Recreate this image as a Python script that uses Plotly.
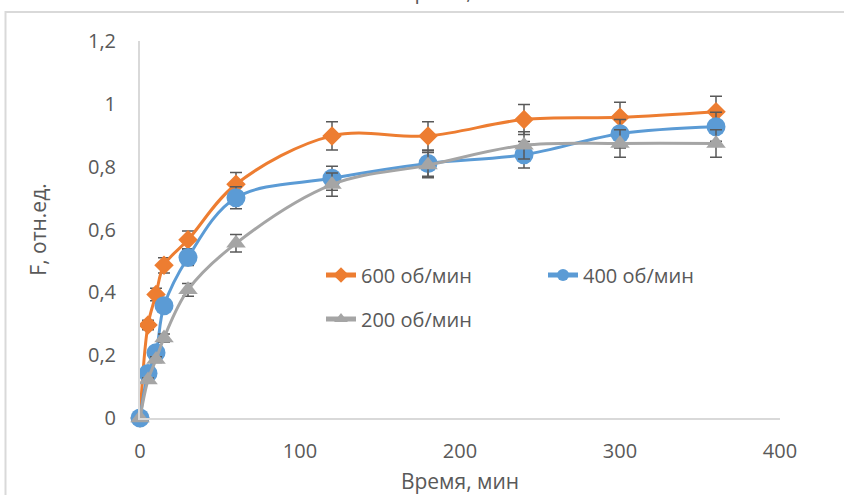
import plotly.graph_objects as go

# Sampling times, minutes
time_min = [0, 5, 10, 15, 30, 60, 120, 180, 240, 300, 360]

# Relative fraction F for three stirring speeds
f_600 = [0, 0.296, 0.393, 0.486, 0.567, 0.744, 0.898, 0.898, 0.950, 0.957, 0.975]
f_400 = [0, 0.142, 0.208, 0.357, 0.511, 0.701, 0.763, 0.810, 0.838, 0.905, 0.927]
f_200 = [0, 0.121, 0.186, 0.255, 0.408, 0.556, 0.743, 0.805, 0.868, 0.874, 0.874]

series_names = ["600 об/мин", "400 об/мин", "200 об/мин"]
error_percent = 5

x_ticks = [0, 100, 200, 300, 400]
y_ticks = [0, 0.2, 0.4, 0.6, 0.8, 1.0, 1.2]

FONT = "Open Sans"
TEXT = "#595959"
AXIS = "#d9d9d9"

W, H = 844, 495
L, R, T, B = 140, 64, 41, 77
PW, PH = W - L - R, H - T - B


def px_to_paper_x(px):
    return (px - L) / PW


def px_to_paper_y(py):
    return (H - B - py) / PH


styles = [
    dict(color="#ED7D31", symbol="diamond", size=15, legend="legend"),
    dict(color="#5B9BD5", symbol="circle", size=19, legend="legend"),
    dict(color="#A5A5A5", symbol="triangle-up", size=17, legend="legend2"),
]

fig = go.Figure()
for name, ys, st in zip(series_names, [f_600, f_400, f_200], styles):
    fig.add_trace(go.Scatter(
        x=time_min, y=ys, name=name, mode="lines+markers",
        line=dict(color=st["color"], width=3, shape="spline", smoothing=1),
        marker=dict(color=st["color"], symbol=st["symbol"], size=st["size"]),
        error_y=dict(type="percent", value=error_percent, color="#595959",
                     thickness=1.5, width=6),
        cliponaxis=False,
        legend=st["legend"],
    ))

legend_common = dict(
    orientation="h", xanchor="left", yanchor="middle",
    font=dict(family=FONT, size=20, color=TEXT),
    bgcolor="rgba(0,0,0,0)", entrywidth=177, entrywidthmode="pixels",
    itemsizing="constant", itemclick=False,
)

fig.update_layout(
    width=W, height=H,
    margin=dict(l=L, r=R, t=T, b=B, autoexpand=False),
    paper_bgcolor="white", plot_bgcolor="white",
    separators=", ",
    font=dict(family=FONT, size=20, color=TEXT),
    showlegend=True,
    legend=dict(x=px_to_paper_x(321), y=px_to_paper_y(275), **legend_common),
    legend2=dict(x=px_to_paper_x(321), y=px_to_paper_y(319), **legend_common),
    xaxis=dict(
        range=[0, 400], tickvals=x_ticks, showgrid=False, zeroline=False,
        showline=True, linecolor=AXIS, linewidth=2, ticks="",
        ticklabelstandoff=14,
        tickfont=dict(family=FONT, size=20, color=TEXT),
        title=dict(text="Время, мин", standoff=13,
                   font=dict(family=FONT, size=21, color=TEXT)),
        automargin=False,
    ),
    yaxis=dict(
        range=[0, 1.2], tickvals=y_ticks, showgrid=False, zeroline=False,
        showline=True, linecolor=AXIS, linewidth=2, ticks="",
        ticklabelstandoff=18,
        tickfont=dict(family=FONT, size=20, color=TEXT),
        title=dict(text="F, отн.ед.", standoff=36,
                   font=dict(family=FONT, size=21, color=TEXT)),
        automargin=False,
    ),
    shapes=[
        dict(type="path", xref="paper", yref="paper",
             path=(f"M {px_to_paper_x(5.5)},{px_to_paper_y(600)} "
                   f"L {px_to_paper_x(5.5)},{px_to_paper_y(12)} "
                   f"L {px_to_paper_x(900)},{px_to_paper_y(12)}"),
             line=dict(color=AXIS, width=2)),
    ],
    annotations=[
        dict(text="Время, мин", xref="paper", yref="paper",
             x=0.5, y=px_to_paper_y(-9), xanchor="center", yanchor="middle",
             showarrow=False, font=dict(family=FONT, size=21, color=TEXT)),
    ],
)

fig.write_html("out.html")
